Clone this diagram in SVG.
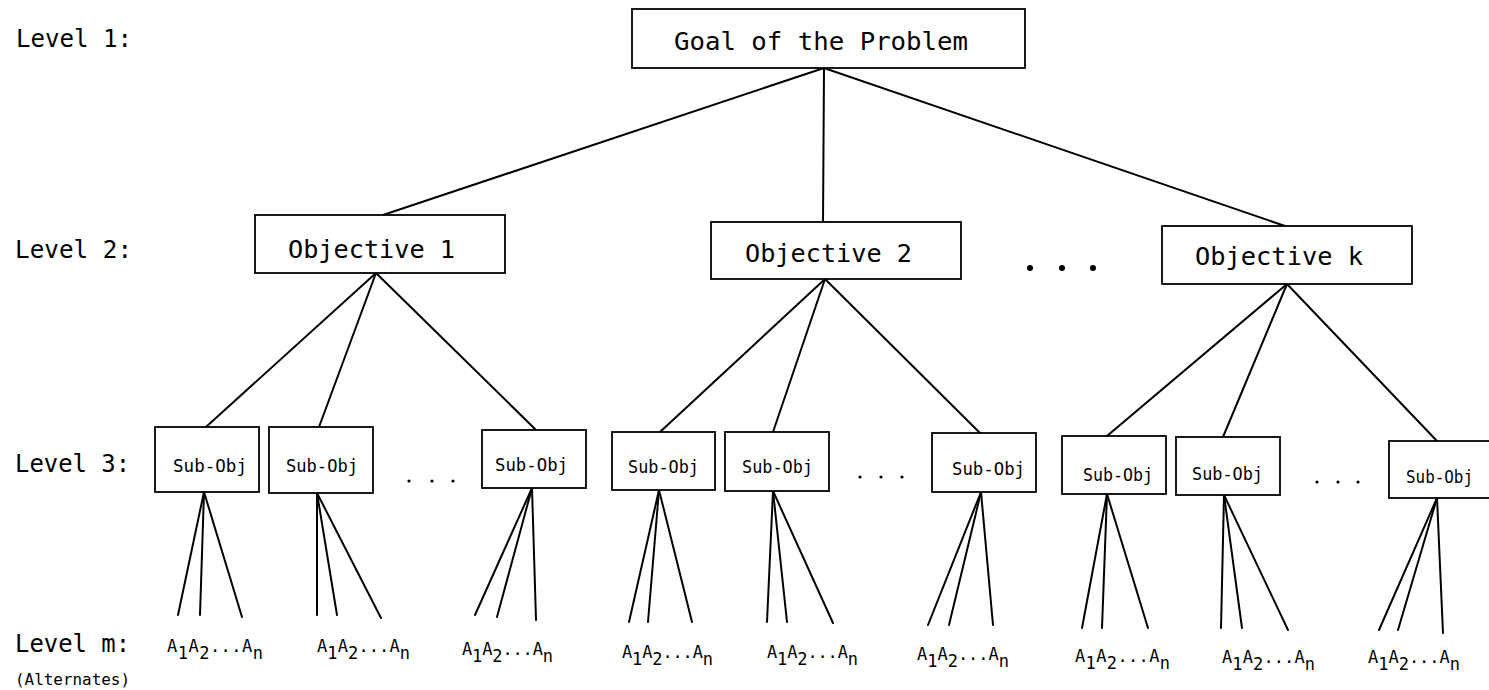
<svg xmlns="http://www.w3.org/2000/svg" width="1489" height="690" viewBox="0 0 1489 690">
<style>
.box{fill:#fff;stroke:#000;stroke-width:1.8}
.lbl{font-family:"DejaVu Sans Mono","Liberation Mono",monospace;fill:#000}
.lv{font-size:24px}
.big{font-size:25px}
.sub{font-size:17.5px}
.alt{font-size:17px}
.small{font-size:16px}
.conn line{stroke:#000;stroke-width:2;stroke-linecap:round}
.dot{fill:#000}
</style>
<rect width="1489" height="690" fill="#fff"/>
<g id="level-labels">
<text class="lbl lv" x="16" y="47" textLength="116" lengthAdjust="spacingAndGlyphs">Level 1:</text>
<text class="lbl lv" x="15" y="258" textLength="117" lengthAdjust="spacingAndGlyphs">Level 2:</text>
<text class="lbl lv" x="15" y="472" textLength="115" lengthAdjust="spacingAndGlyphs">Level 3:</text>
<text class="lbl lv" x="15" y="652" textLength="115" lengthAdjust="spacingAndGlyphs">Level m:</text>
<text class="lbl small" x="15" y="685" textLength="115" lengthAdjust="spacingAndGlyphs">(Alternates)</text>
</g>
<g id="connectors" class="conn">
<line x1="824" y1="68" x2="383" y2="215"/>
<line x1="824" y1="68" x2="823" y2="222"/>
<line x1="824" y1="68" x2="1285" y2="226"/>
<line x1="376" y1="273" x2="206" y2="427"/>
<line x1="376" y1="273" x2="319" y2="427"/>
<line x1="376" y1="273" x2="535" y2="429"/>
<line x1="825" y1="279" x2="660" y2="432"/>
<line x1="825" y1="279" x2="773" y2="432"/>
<line x1="825" y1="279" x2="980" y2="433"/>
<line x1="1287" y1="284" x2="1107" y2="436"/>
<line x1="1287" y1="284" x2="1223" y2="437"/>
<line x1="1287" y1="284" x2="1437" y2="441"/>
<line x1="204" y1="492" x2="178" y2="615"/>
<line x1="204" y1="492" x2="200" y2="615"/>
<line x1="204" y1="492" x2="242" y2="617"/>
<line x1="317" y1="493" x2="317" y2="615"/>
<line x1="317" y1="493" x2="337" y2="615"/>
<line x1="317" y1="493" x2="381" y2="618"/>
<line x1="532" y1="488" x2="475" y2="615"/>
<line x1="532" y1="488" x2="497" y2="617"/>
<line x1="532" y1="488" x2="536" y2="620"/>
<line x1="659" y1="490" x2="629" y2="622"/>
<line x1="659" y1="490" x2="648" y2="622"/>
<line x1="659" y1="490" x2="692" y2="622"/>
<line x1="773" y1="491" x2="767" y2="622"/>
<line x1="773" y1="491" x2="787" y2="622"/>
<line x1="773" y1="491" x2="833" y2="623"/>
<line x1="981" y1="492" x2="928" y2="625"/>
<line x1="981" y1="492" x2="949" y2="625"/>
<line x1="981" y1="492" x2="993" y2="625"/>
<line x1="1107" y1="494" x2="1082" y2="628"/>
<line x1="1107" y1="494" x2="1102" y2="628"/>
<line x1="1107" y1="494" x2="1148" y2="628"/>
<line x1="1224" y1="495" x2="1221" y2="628"/>
<line x1="1224" y1="495" x2="1242" y2="628"/>
<line x1="1224" y1="495" x2="1288" y2="630"/>
<line x1="1437" y1="498" x2="1379" y2="630"/>
<line x1="1437" y1="498" x2="1398" y2="630"/>
<line x1="1437" y1="498" x2="1443" y2="633"/>
</g>
<g id="goal">
<rect class="box" x="632" y="9" width="393" height="59"/>
<text class="lbl big" x="674" y="50" textLength="294" lengthAdjust="spacingAndGlyphs">Goal of the Problem</text>
</g>
<g id="objective-1">
<rect class="box" x="255" y="215" width="250" height="58"/>
<text class="lbl big" x="288" y="258" textLength="167" lengthAdjust="spacingAndGlyphs">Objective 1</text>
</g>
<g id="objective-2">
<rect class="box" x="711" y="222" width="250" height="57"/>
<text class="lbl big" x="745" y="262" textLength="167" lengthAdjust="spacingAndGlyphs">Objective 2</text>
</g>
<g id="objective-k">
<rect class="box" x="1162" y="226" width="250" height="58"/>
<text class="lbl big" x="1195" y="265" textLength="168" lengthAdjust="spacingAndGlyphs">Objective k</text>
</g>
<g id="level2-ellipsis">
<circle class="dot" cx="1030" cy="268" r="3"/>
<circle class="dot" cx="1062" cy="268" r="3"/>
<circle class="dot" cx="1093" cy="268" r="3"/>
</g>
<g id="subobj-1"><rect class="box" x="155" y="427" width="104" height="65"/><text class="lbl sub" x="173" y="472" textLength="74" lengthAdjust="spacingAndGlyphs">Sub-Obj</text></g>
<g id="subobj-2"><rect class="box" x="269" y="427" width="104" height="66"/><text class="lbl sub" x="286" y="472" textLength="72" lengthAdjust="spacingAndGlyphs">Sub-Obj</text></g>
<g id="subobj-3"><rect class="box" x="482" y="430" width="104" height="58"/><text class="lbl sub" x="495" y="471" textLength="73" lengthAdjust="spacingAndGlyphs">Sub-Obj</text></g>
<g id="subobj-4"><rect class="box" x="612" y="432" width="103" height="58"/><text class="lbl sub" x="628" y="473" textLength="71" lengthAdjust="spacingAndGlyphs">Sub-Obj</text></g>
<g id="subobj-5"><rect class="box" x="725" y="432" width="104" height="59"/><text class="lbl sub" x="742" y="473" textLength="71" lengthAdjust="spacingAndGlyphs">Sub-Obj</text></g>
<g id="subobj-6"><rect class="box" x="932" y="433" width="104" height="59"/><text class="lbl sub" x="952" y="475" textLength="73" lengthAdjust="spacingAndGlyphs">Sub-Obj</text></g>
<g id="subobj-7"><rect class="box" x="1062" y="436" width="104" height="58"/><text class="lbl sub" x="1083" y="481" textLength="70" lengthAdjust="spacingAndGlyphs">Sub-Obj</text></g>
<g id="subobj-8"><rect class="box" x="1176" y="437" width="104" height="58"/><text class="lbl sub" x="1192" y="480" textLength="71" lengthAdjust="spacingAndGlyphs">Sub-Obj</text></g>
<g id="subobj-9"><rect class="box" x="1389" y="441" width="104" height="57"/><text class="lbl sub" x="1406" y="483" textLength="67" lengthAdjust="spacingAndGlyphs">Sub-Obj</text></g>
<g id="level3-ellipsis">
<circle class="dot" cx="409" cy="481" r="1.6"/><circle class="dot" cx="432" cy="481" r="1.6"/><circle class="dot" cx="453" cy="481" r="1.6"/>
<circle class="dot" cx="860" cy="477" r="1.6"/><circle class="dot" cx="881" cy="477" r="1.6"/><circle class="dot" cx="902" cy="477" r="1.6"/>
<circle class="dot" cx="1317" cy="482" r="1.6"/><circle class="dot" cx="1338" cy="482" r="1.6"/><circle class="dot" cx="1358" cy="482" r="1.6"/>
</g>
<g id="alternates">
<text class="lbl alt" x="167" y="652" textLength="96" lengthAdjust="spacing">A<tspan dy="7">1</tspan><tspan dy="-7">A</tspan><tspan dy="7">2</tspan><tspan dy="-7">...A</tspan><tspan dy="7">n</tspan></text>
<text class="lbl alt" x="317" y="652" textLength="93" lengthAdjust="spacing">A<tspan dy="7">1</tspan><tspan dy="-7">A</tspan><tspan dy="7">2</tspan><tspan dy="-7">...A</tspan><tspan dy="7">n</tspan></text>
<text class="lbl alt" x="462" y="655" textLength="91" lengthAdjust="spacing">A<tspan dy="7">1</tspan><tspan dy="-7">A</tspan><tspan dy="7">2</tspan><tspan dy="-7">...A</tspan><tspan dy="7">n</tspan></text>
<text class="lbl alt" x="622" y="658" textLength="91" lengthAdjust="spacing">A<tspan dy="7">1</tspan><tspan dy="-7">A</tspan><tspan dy="7">2</tspan><tspan dy="-7">...A</tspan><tspan dy="7">n</tspan></text>
<text class="lbl alt" x="767" y="658" textLength="91" lengthAdjust="spacing">A<tspan dy="7">1</tspan><tspan dy="-7">A</tspan><tspan dy="7">2</tspan><tspan dy="-7">...A</tspan><tspan dy="7">n</tspan></text>
<text class="lbl alt" x="917" y="660" textLength="92" lengthAdjust="spacing">A<tspan dy="7">1</tspan><tspan dy="-7">A</tspan><tspan dy="7">2</tspan><tspan dy="-7">...A</tspan><tspan dy="7">n</tspan></text>
<text class="lbl alt" x="1075" y="662" textLength="95" lengthAdjust="spacing">A<tspan dy="7">1</tspan><tspan dy="-7">A</tspan><tspan dy="7">2</tspan><tspan dy="-7">...A</tspan><tspan dy="7">n</tspan></text>
<text class="lbl alt" x="1222" y="663" textLength="93" lengthAdjust="spacing">A<tspan dy="7">1</tspan><tspan dy="-7">A</tspan><tspan dy="7">2</tspan><tspan dy="-7">...A</tspan><tspan dy="7">n</tspan></text>
<text class="lbl alt" x="1368" y="663" textLength="92" lengthAdjust="spacing">A<tspan dy="7">1</tspan><tspan dy="-7">A</tspan><tspan dy="7">2</tspan><tspan dy="-7">...A</tspan><tspan dy="7">n</tspan></text>
</g>
</svg>
